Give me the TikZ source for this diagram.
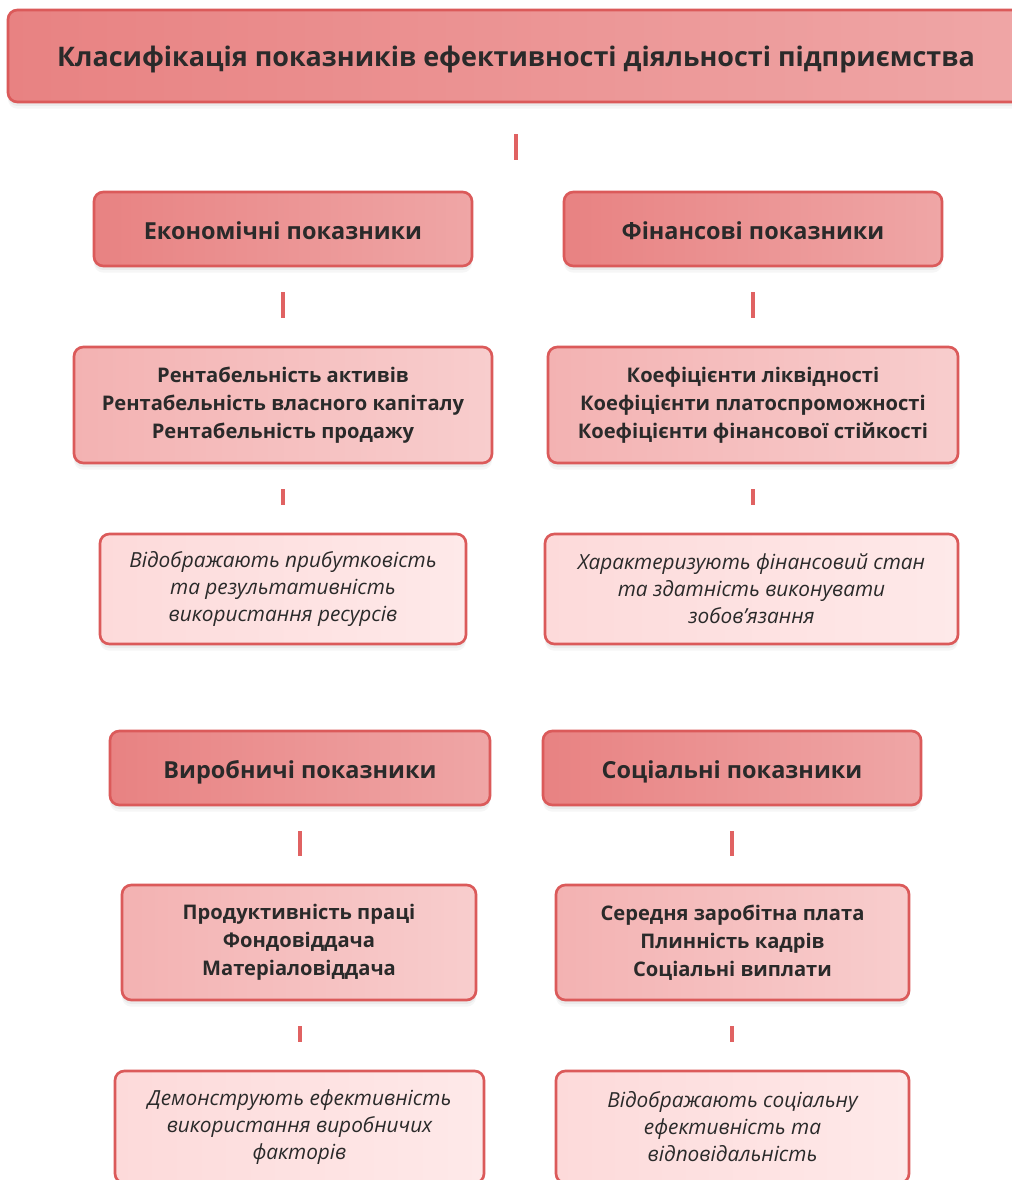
\documentclass[tikz,border=0pt]{standalone}
\usepackage{fontspec}
\setmainfont{Open Sans}
\usetikzlibrary{shadows}

\definecolor{edge}{HTML}{DB5A5A}
\definecolor{headL}{HTML}{E88282}
\definecolor{headR}{HTML}{EFA6A6}
\definecolor{listL}{HTML}{F3B2B2}
\definecolor{listR}{HTML}{F8CDCD}
\definecolor{descL}{HTML}{FDDADA}
\definecolor{descR}{HTML}{FEE9E9}
\definecolor{ink}{HTML}{2A2A2A}
\definecolor{bar}{HTML}{E06262}

\begin{document}
\begin{tikzpicture}[x=0.75pt,y=-0.75pt,
  box/.style={draw=edge, line width=2pt, rounded corners=7pt, align=center,
    text=ink, inner sep=0pt,
    general shadow={fill=black, opacity=.035, shadow yshift=-5pt},
    general shadow={fill=black, opacity=.045, shadow yshift=-3pt}},
  titlebox/.style={box, left color=headL, right color=headR,
    text height=15.9pt, text depth=0pt,
    font=\bfseries\fontsize{20.2}{24}\selectfont},
  headbox/.style={box, left color=headL, right color=headR,
    text height=15.6pt, text depth=0pt,
    font=\bfseries\fontsize{17.6}{21}\selectfont},
  listbox/.style={box, left color=listL, right color=listR,
    font=\bfseries\fontsize{15.1}{21}\selectfont},
  descbox/.style={box, left color=descL, right color=descR,
    font=\itshape\fontsize{15.6}{20.25}\selectfont},
  conn/.style={draw=bar, line width=3pt, shorten <=18.75pt, shorten >=20.5pt}]

\useasboundingbox[fill=white] (0,0) rectangle (1011,1180);

% title
\node[titlebox, minimum width=762pt, minimum height=69pt] (title) at (516,56)
  {Класифікація показників ефективності діяльності підприємства};
\coordinate (tend) at (516,160);
\draw[draw=bar, line width=3pt, shorten <=23.25pt] (title.south) -- (tend);

% upper left column
\node[headbox, minimum width=283.5pt, minimum height=55.5pt] (econ) at (283,229)
  {Економічні показники};
\node[listbox, minimum width=313.5pt, minimum height=87pt] (econlist) at (283,405)
  {Рентабельність активів\\Рентабельність власного капіталу\\Рентабельність продажу};
\node[descbox, minimum width=274.5pt, minimum height=82.5pt] (econdesc) at (283,589)
  {Відображають прибутковість\\та результативність\\використання ресурсів};

% upper right column
\node[headbox, minimum width=283.5pt, minimum height=55.5pt] (fin) at (753,229)
  {Фінансові показники};
\node[listbox, minimum width=307.5pt, minimum height=87pt] (finlist) at (753,405)
  {Коефіцієнти ліквідності\\Коефіцієнти платоспроможності\\Коефіцієнти фінансової стійкості};
\node[descbox, minimum width=309.75pt, minimum height=82.5pt] (findesc) at (751.5,589)
  {Характеризують фінансовий стан\\та здатність виконувати\\зобов'язання};

% lower left column
\node[headbox, minimum width=285pt, minimum height=55.5pt] (prod) at (300,768)
  {Виробничі показники};
\node[listbox, minimum width=265.5pt, minimum height=86.25pt] (prodlist) at (299,942.5)
  {Продуктивність праці\\Фондовіддача\\Матеріаловіддача};
\node[descbox, minimum width=276.75pt, minimum height=84pt] (proddesc) at (299.5,1127)
  {Демонструють ефективність\\використання виробничих\\факторів};

% lower right column
\node[headbox, minimum width=283.5pt, minimum height=55.5pt] (soc) at (732,768)
  {Соціальні показники};
\node[listbox, minimum width=264.75pt, minimum height=86.25pt] (soclist) at (732.5,942.5)
  {Середня заробітна плата\\Плинність кадрів\\Соціальні виплати};
\node[descbox, minimum width=264.75pt, minimum height=84pt] (socdesc) at (732.5,1127)
  {Відображають соціальну\\ефективність та\\відповідальність};

% short connector bars between the levels
\draw[conn] (econ.south) -- (econ.south |- econlist.north);
\draw[conn] (econlist.south) -- (econlist.south |- econdesc.north);
\draw[conn] (fin.south) -- (fin.south |- finlist.north);
\draw[conn] (finlist.south) -- (finlist.south |- findesc.north);
\draw[conn] (prod.south) -- (prod.south |- prodlist.north);
\draw[conn] (prod.south |- prodlist.south) -- (prod.south |- proddesc.north);
\draw[conn] (soc.south) -- (soc.south |- soclist.north);
\draw[conn] (soc.south |- soclist.south) -- (soc.south |- socdesc.north);
\end{tikzpicture}
\end{document}
